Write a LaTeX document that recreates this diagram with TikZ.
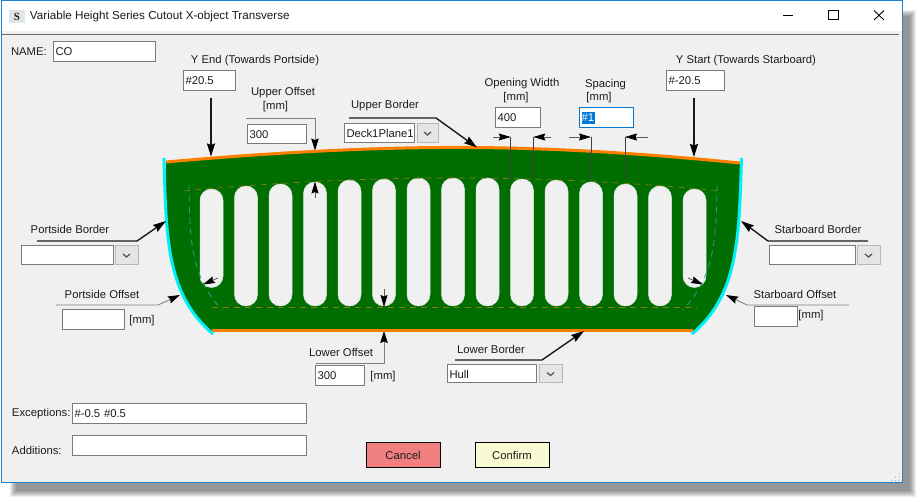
\documentclass[tikz,border=0pt]{standalone}
\usepackage{fontspec}
\setmainfont{Liberation Sans}
\newfontfamily\iconfont{Liberation Serif}
\usetikzlibrary{arrows.meta}
\definecolor{winbg}{HTML}{F0F0F0}
\definecolor{winblue}{HTML}{1883D7}
\definecolor{selblue}{HTML}{0078D7}
\definecolor{hullgreen}{HTML}{006E00}
\definecolor{hullorange}{HTML}{FF8000}
\definecolor{hullcyan}{HTML}{00F0F8}
\definecolor{dashbrown}{HTML}{8C7A14}
\definecolor{dashteal}{HTML}{1FA88A}
\definecolor{iconbg}{HTML}{E0E6E6}
\definecolor{cancelred}{HTML}{F08080}
\definecolor{confirmyel}{HTML}{FAFAD2}
\definecolor{ink}{HTML}{1C1C1C}
\newcommand{\fieldbox}[7][]{%
  \pgfmathsetmacro{\fw}{#4-#2}\pgfmathsetmacro{\fh}{#5-#3}\pgfmathsetmacro{\ftw}{\fw-5}%
  \node[field,#1,anchor=north west,text width=\ftw pt,minimum height=\fh pt] (#6) at (#2,#3) {#7};}
\newcommand{\dropbtn}[5]{%
  \pgfmathsetmacro{\fw}{#4-#2}\pgfmathsetmacro{\fh}{#5-#3}%
  \node[dropbox,anchor=north west,minimum width=\fw pt,minimum height=\fh pt] (#1) at (#2,#3) {};
  \draw[chev] ([shift={(-3.5,-1.5)}]#1.center) -- ([shift={(0,1.5)}]#1.center) -- ([shift={(3.5,-1.5)}]#1.center);}
\tikzset{
  every node/.style={font=\fontsize{11.3}{13}\selectfont,text=ink},
  field/.style={draw=black!52,fill=white,line width=1pt,inner xsep=2.5pt,inner ysep=0pt,outer sep=0pt,align=left},
  dropbox/.style={draw=black!28,fill=black!10,line width=1pt,inner sep=0pt,outer sep=0pt},
  chev/.style={draw=black!70,line width=1.2pt},
  lbl/.style={inner sep=0pt,outer sep=0pt},
  btn/.style={draw=black,line width=1pt,inner sep=0pt,outer sep=0pt,anchor=north west,minimum width=74pt,minimum height=25pt},
  heavy/.style={draw=black!90,line width=1.4pt,-{Stealth[length=13pt,width=8pt,inset=1.5pt,black]}},
  thin/.style={draw=black!50,line width=0.9pt,-{Stealth[length=12pt,width=7.5pt,inset=1.5pt,black]}},
  vertline/.style={draw=black!75,line width=0.7pt},
  smallarrow/.style={draw=black!65,line width=0.8pt,-{Stealth[length=12pt,width=7pt,inset=1.5pt,black]}},
  slot/.style={fill=winbg,draw=white!85!hullgreen,line width=0.5pt},
  offsetH/.style={draw=dashbrown,line width=0.7pt,dash pattern=on 6pt off 5pt},
  offsetV/.style={draw=dashteal,line width=0.8pt,dash pattern=on 6pt off 5pt},
}
\begin{document}
\begin{tikzpicture}[x=1pt,y=-1pt]
\useasboundingbox (0,0) rectangle (922,502);
\fill[white] (0,0) rectangle (922,502);
% shadow
\foreach \d in {3,2,1,0,-1,-2,-3}
  \fill[black,opacity=0.07] (13-\d,13-\d) rectangle (913+\d,494+\d);
% window
\fill[winbg,draw=winblue,line width=1pt] (1,1) rectangle (902,483);
\fill[white] (1.5,1.5) rectangle (901.5,31);
\draw[black!60,line width=0.8pt] (1.5,34) -- (899,34);
\node[fill=iconbg,minimum width=16pt,minimum height=13pt,inner sep=0pt,font=\iconfont\fontsize{11}{12}\bfseries\selectfont] (icon) at (17,16.5) {S};
\node[lbl,anchor=west,font=\fontsize{11.65}{14}\selectfont] (title) at (30,16) {Variable Height Series Cutout X-object Transverse};
\draw[black,line width=1pt] (783,15.5) -- (793,15.5);
\draw[black,line width=1pt] (828.5,10.5) rectangle (838.5,20);
\draw[black,line width=0.9pt] (874,10.5) -- (884,20) (884,10.5) -- (874,20);
\foreach \p in {(899,473.5),(899,477),(899,480.5),(895.5,477),(895.5,480.5),(892,480.5)}
  \fill[black!35] \p circle (0.6pt);

% hull
\fill[hullgreen] (166,162) .. controls (300,150) and (400,147) .. (470,147.5)
  .. controls (560,148) and (650,154) .. (740,163)
  .. controls (739,240) and (738,295) .. (692,332)
  -- (213,332) .. controls (167,295) and (166,240) .. (166,162) -- cycle;
% slots
\foreach \x/\t in {234.5/186,269/184,303.5/182,338/180,372.5/179,407/178,441.5/178,476/178,510.5/179,545/180,579.5/182,614/184,648.5/186}
  \draw[slot,rounded corners=11.4pt] (\x,\t) rectangle ++(23,306-\t);
\draw[slot,rounded corners=11.4pt] (200,189) rectangle (223,287.5);
\draw[slot,rounded corners=11.4pt] (683,189) rectangle (706,287.5);
% offset lines
\draw[offsetH] (184,191) .. controls (300,180) and (400,177.5) .. (470,178)
  .. controls (560,178.5) and (650,184) .. (722,191);
\draw[offsetH] (212,307) -- (697,307);
\draw[offsetV] (189,185) .. controls (190,240) and (190,275) .. (222,310);
\draw[offsetV] (717,185) .. controls (716,240) and (715,275) .. (683,310);
% borders
\draw[hullorange,line width=3pt] (166,162) .. controls (300,150) and (400,147) .. (470,147.5)
  .. controls (560,148) and (650,154) .. (740,163);
\draw[hullorange,line width=3pt] (212,331) -- (693,331);
\draw[hullcyan,line width=3pt] (164,158) .. controls (166,240) and (167,295) .. (213,334);
\draw[hullcyan,line width=3pt] (741.5,158) .. controls (739,240) and (738,295) .. (692,334);

% fields and labels
\node[lbl,anchor=west] (lname) at (11,52) {NAME:};
\fieldbox{53}{42}{155.5}{62}{fname}{CO}
\node[lbl] (lyend) at (255,61) {Y End (Towards Portside)};
\fieldbox{183}{71}{235}{91}{fyend}{\#20.5}
\node[lbl] (luoff) at (283,93) {Upper Offset};
\node[lbl] (luoffm) at (275.5,107) {[mm]};
\fieldbox{247}{125}{306}{144}{fuoff}{300}
\node[lbl] (lubord) at (385,106) {Upper Border};
\fieldbox{344}{124}{414}{143}{fubord}{Deck1Plane1}
\dropbtn{bubord}{417}{124}{438}{143}
\node[lbl] (lopen) at (522,84) {Opening Width};
\node[lbl] (lopenm) at (516,98) {[mm]};
\fieldbox{495}{108}{540}{128}{fopen}{400}
\node[lbl] (lspac) at (605.5,85) {Spacing};
\node[lbl] (lspacm) at (599,98) {[mm]};
\fill[white] (579,108) rectangle (633,128);
\fill[selblue] (581.5,112) rectangle (595,124);
\fieldbox[draw=selblue,fill=none]{579}{108}{633}{128}{fspac}{\textcolor{white}{\#1}}
\node[lbl] (lystart) at (746,61) {Y Start (Towards Starboard)};
\fieldbox{666}{71}{724}{91}{fystart}{\#-20.5}
\node[lbl] (lpbord) at (70,229) {Portside Border};
\fieldbox{21}{246}{113}{265}{fpbord}{}
\dropbtn{bpbord}{115}{246}{138}{265}
\node[lbl] (lsbord) at (818,229) {Starboard Border};
\fieldbox{769}{246}{855}{265}{fsbord}{}
\dropbtn{bsbord}{857}{246}{880}{265}
\node[lbl] (lpoff) at (102,294) {Portside Offset};
\fieldbox{62}{310}{124}{330}{fpoff}{}
\node[lbl] (lpoffm) at (142,321) {[mm]};
\node[lbl] (lsoff) at (795,294) {Starboard Offset};
\fieldbox{754}{307}{797}{327}{fsoff}{}
\node[lbl] (lsoffm) at (811,316) {[mm]};
\node[lbl] (lloff) at (341,352) {Lower Offset};
\fieldbox{315}{366}{364}{386}{floff}{300}
\node[lbl] (lloffm) at (383,377) {[mm]};
\node[lbl] (llbord) at (491,349) {Lower Border};
\fieldbox{447}{365}{536}{383}{flbord}{Hull}
\dropbtn{blbord}{539}{365}{562}{383}
\node[lbl,anchor=west] (lexc) at (12,414) {Exceptions:};
\fieldbox{72}{404}{306}{424}{fexc}{\#-0.5 \#0.5}
\node[lbl,anchor=west] (ladd) at (12,450) {Additions:};
\fieldbox{72}{436}{306}{456}{fadd}{}
\node[btn,fill=cancelred] (bcancel) at (366,443) {Cancel};
\node[btn,fill=confirmyel] (bconfirm) at (475,443) {Confirm};

% connector end points
\coordinate (a1) at (211,98);   \coordinate (a2) at (211,156.5);
\coordinate (b1) at (694,98);   \coordinate (b2) at (694,157);
\coordinate (c1) at (246,118.5);\coordinate (c2) at (315,118.5); \coordinate (c3) at (315,150.5);
\coordinate (c4) at (315,198);  \coordinate (c5) at (315,181.5);
\coordinate (d1) at (349,118);  \coordinate (d2) at (436,118);   \coordinate (d3) at (477,147.5);
\coordinate (e1) at (493,137);  \coordinate (e2) at (510.7,137); \coordinate (e3) at (510.7,180);
\coordinate (e4) at (551,137);  \coordinate (e5) at (533.3,137); \coordinate (e6) at (533.3,179);
\coordinate (f1) at (569,137);  \coordinate (f2) at (591,137);   \coordinate (f3) at (591,179);
\coordinate (f4) at (648,137);  \coordinate (f5) at (625,137);   \coordinate (f6) at (625,179);
\coordinate (g1) at (37,241);   \coordinate (g2) at (137,241);   \coordinate (g3) at (166,221);
\coordinate (h1) at (868,241);  \coordinate (h2) at (768,241);   \coordinate (h3) at (741,221);
\coordinate (i1) at (56,305);   \coordinate (i2) at (158,305);   \coordinate (i3) at (180,295);
\coordinate (i4) at (218,278);  \coordinate (i5) at (203,284.5);
\coordinate (j1) at (849,305);  \coordinate (j2) at (747,305);   \coordinate (j3) at (726,295);
\coordinate (j4) at (688,278);  \coordinate (j5) at (703,284.5);
\coordinate (k1) at (316,363);  \coordinate (k2) at (384,363);   \coordinate (k3) at (384,331);
\coordinate (k4) at (384,289);  \coordinate (k5) at (384,307);
\coordinate (m1) at (455,360);  \coordinate (m2) at (542,360);   \coordinate (m3) at (584,331);

% connectors
\draw[heavy] (a1) -- (a2);
\draw[heavy] (b1) -- (b2);
\draw[thin] (c1) -- (c2) -- (c3);
\draw[smallarrow] (c4) -- (c5);
\draw[heavy] (d1) -- (d2) -- (d3);
\draw[smallarrow] (e1) -- (e2);
\draw[vertline] (e2) -- (e3);
\draw[smallarrow] (e4) -- (e5);
\draw[vertline] (e5) -- (e6);
\draw[smallarrow] (f1) -- (f2);
\draw[vertline] (f2) -- (f3);
\draw[smallarrow] (f4) -- (f5);
\draw[vertline] (f5) -- (f6);
\draw[heavy] (g1) -- (g2) -- (g3);
\draw[heavy] (h1) -- (h2) -- (h3);
\draw[thin] (i1) -- (i2) -- (i3);
\draw[smallarrow] (i4) -- (i5);
\draw[thin] (j1) -- (j2) -- (j3);
\draw[smallarrow] (j4) -- (j5);
\draw[thin] (k1) -- (k2) -- (k3);
\draw[smallarrow] (k4) -- (k5);
\draw[heavy] (m1) -- (m2) -- (m3);
\end{tikzpicture}
\end{document}
